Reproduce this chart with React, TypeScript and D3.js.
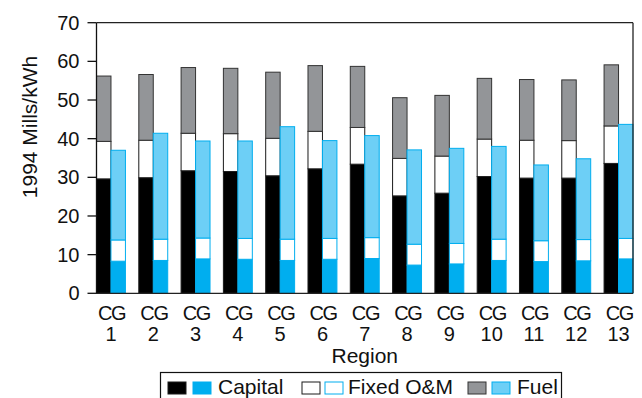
import React from "react";
import * as d3 from "d3";

// Regions and cost components (1994 mills/kWh)
const regions = ["1", "2", "3", "4", "5", "6", "7", "8", "9", "10", "11", "12", "13"];

// First bar of each pair
const capitalA = [29.6, 29.9, 31.7, 31.5, 30.4, 32.2, 33.4, 25.2, 25.9, 30.2, 29.8, 29.8, 33.6];
const fixedOMA = [9.7, 9.7, 9.7, 9.8, 9.7, 9.7, 9.5, 9.7, 9.6, 9.7, 9.8, 9.7, 9.7];
const fuelA = [16.9, 17.0, 17.0, 16.9, 17.1, 17.0, 15.8, 15.7, 15.7, 15.7, 15.7, 15.7, 15.8];

// Second bar of each pair
const capitalB = [8.3, 8.5, 8.9, 8.8, 8.5, 8.8, 9.0, 7.3, 7.6, 8.5, 8.2, 8.4, 8.9];
const fixedOMB = [5.5, 5.5, 5.4, 5.4, 5.5, 5.4, 5.4, 5.4, 5.3, 5.5, 5.4, 5.5, 5.3];
const fuelB = [23.2, 27.4, 25.1, 25.2, 29.1, 25.3, 26.4, 24.4, 24.6, 24.0, 19.6, 20.9, 29.5];

const yTicks = [0, 10, 20, 30, 40, 50, 60, 70];
const componentNames = ["Capital", "Fixed O&M", "Fuel"];

const W = 642;
const H = 398;
const margin = { left: 96.5, right: 9, top: 22.7, bottom: 104.7 };
const FONT = "'Liberation Sans', Arial, sans-serif";

const styleA = [
  { fill: "#000000", stroke: "#1a1a1a" },
  { fill: "#ffffff", stroke: "#1a1a1a" },
  { fill: "#939598", stroke: "#333333" },
];
const styleB = [
  { fill: "#00aeef", stroke: "#00aeef" },
  { fill: "#ffffff", stroke: "#00aeef" },
  { fill: "#6dcff6", stroke: "#00aeef" },
];

type Row = { region: string; capital: number; fixedOM: number; fuel: number };
const keys = ["capital", "fixedOM", "fuel"];

const rowsA: Row[] = regions.map((r, i) => ({ region: r, capital: capitalA[i], fixedOM: fixedOMA[i], fuel: fuelA[i] }));
const rowsB: Row[] = regions.map((r, i) => ({ region: r, capital: capitalB[i], fixedOM: fixedOMB[i], fuel: fuelB[i] }));

export default function App() {
  const x0 = margin.left;
  const x1 = W - margin.right;
  const yTop = margin.top;
  const yBot = H - margin.bottom;

  const x = d3.scaleBand<string>().domain(regions).range([x0, x1]).paddingInner(0.316).paddingOuter(0);
  const sub = d3.scaleBand<string>().domain(["A", "B"]).range([0, x.bandwidth()]).padding(0);
  const y = d3.scaleLinear().domain([0, 70]).range([yBot, yTop]);

  const stack = d3.stack<Row>().keys(keys);
  const seriesA = stack(rowsA);
  const seriesB = stack(rowsB);

  const renderStack = (series: d3.Series<Row, string>[], which: string, styles: typeof styleA) =>
    series.map((s, k) =>
      s.map((d, i) => {
        const bx = (x(d.data.region) as number) + (sub(which) as number);
        return (
          <rect
            key={`${which}-${k}-${i}`}
            x={bx}
            y={y(d[1])}
            width={sub.bandwidth()}
            height={y(d[0]) - y(d[1])}
            fill={styles[k].fill}
            stroke={styles[k].stroke}
            strokeWidth={1}
          />
        );
      })
    );

  // legend layout
  const legendItems = [
    { sx: [168, 193], tx: 218 },
    { sx: [302, 325], tx: 348 },
    { sx: [468, 492], tx: 517 },
  ];

  return (
    <svg
      width={W}
      height={H}
      style={{ position: "absolute", left: 0, top: 0, background: "#fff" }}
      fontFamily={FONT}
    >
      {/* bars */}
      {renderStack(seriesA, "A", styleA)}
      {renderStack(seriesB, "B", styleB)}

      {/* frame */}
      <line x1={x0} x2={x1} y1={yTop} y2={yTop} stroke="#222" strokeWidth={1.3} />
      <line x1={x1} x2={x1} y1={yTop} y2={yBot} stroke="#222" strokeWidth={1.3} />
      <line x1={x0} x2={x1} y1={yBot} y2={yBot} stroke="#222" strokeWidth={1.3} />
      <line x1={x0} x2={x0} y1={yTop} y2={yBot} stroke="#111" strokeWidth={1.3} />

      {/* y axis ticks */}
      {yTicks.map((t) => (
        <g key={t}>
          <line x1={x0 - 9} x2={x0} y1={y(t)} y2={y(t)} stroke="#111" strokeWidth={1.3} />
          <text x={x0 - 17} y={y(t)} dy="0.35em" textAnchor="end" fontSize={20} fill="#111">
            {t}
          </text>
        </g>
      ))}
      <text
        transform={`translate(37,127) rotate(-90)`}
        textAnchor="middle"
        fontSize={21}
        fill="#111"
      >
        1994 Mills/kWh
      </text>

      {/* x axis labels */}
      {regions.map((r) => {
        const cx = (x(r) as number) + x.bandwidth() / 2;
        return (
          <g key={r}>
            <text x={cx + 0.7} y={320} textAnchor="middle" fontSize={20} letterSpacing={-1.4} fill="#111">
              CG
            </text>
            <text x={cx} y={341} textAnchor="middle" fontSize={20} fill="#111">
              {r}
            </text>
          </g>
        );
      })}
      <text x={(x0 + x1) / 2} y={363} textAnchor="middle" fontSize={21} fill="#111">
        Region
      </text>

      {/* legend */}
      <rect x={160.5} y={372.5} width={401} height={40} fill="#fff" stroke="#111" strokeWidth={1.2} />
      {legendItems.map((li, k) => (
        <g key={k}>
          <rect x={li.sx[0]} y={382} width={18} height={12} fill={styleA[k].fill} stroke={styleA[k].stroke} strokeWidth={1} />
          <rect x={li.sx[1]} y={382} width={18} height={12} fill={styleB[k].fill} stroke={styleB[k].stroke} strokeWidth={1} />
          <text x={li.tx} y={393.5} fontSize={21} fill="#111">
            {componentNames[k]}
          </text>
        </g>
      ))}
    </svg>
  );
}
